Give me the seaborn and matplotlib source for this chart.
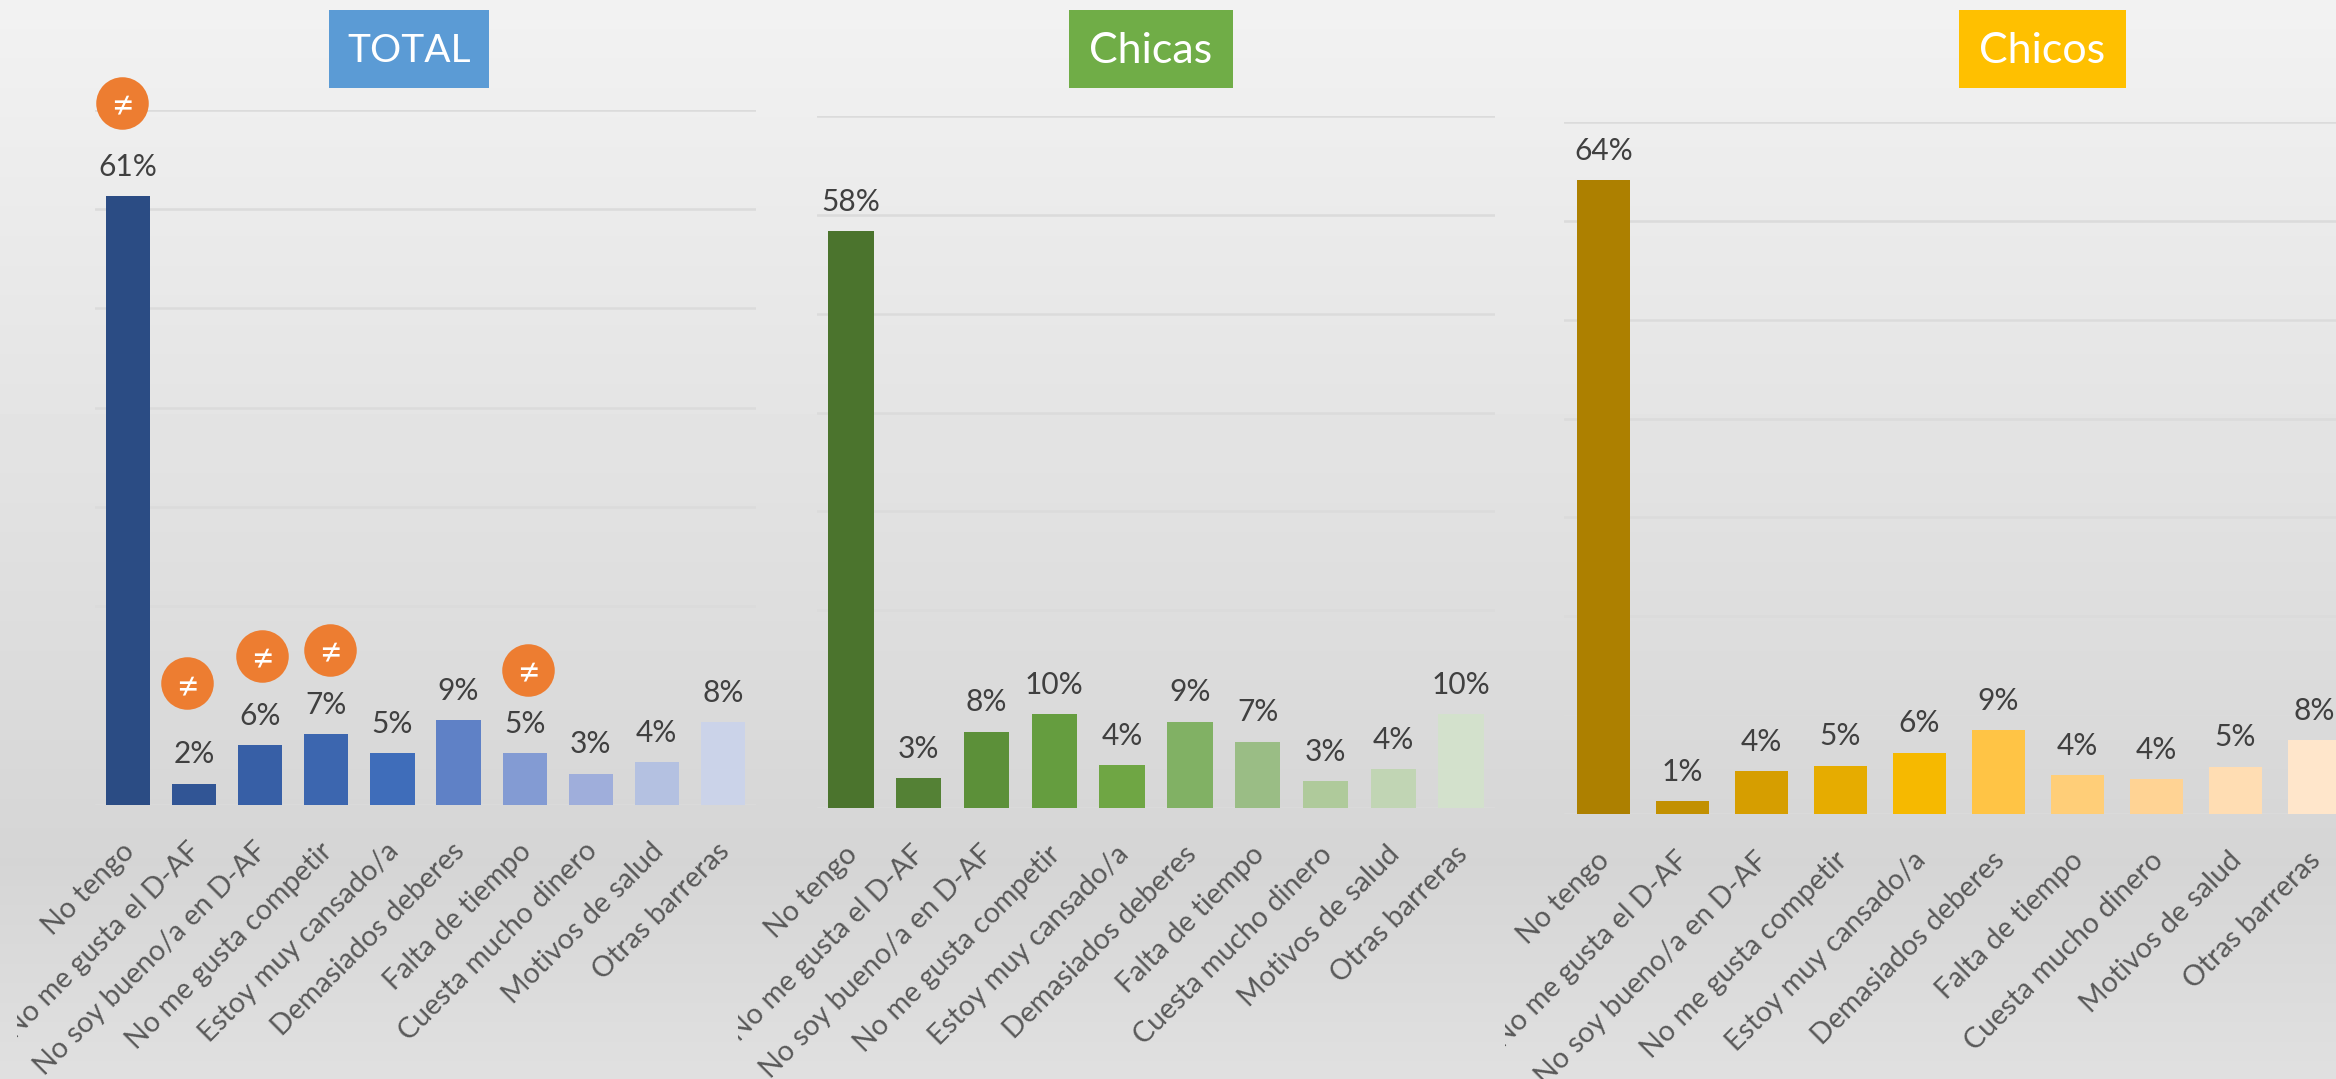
import numpy as np
import pandas as pd
import matplotlib
matplotlib.use("Agg")
import matplotlib.pyplot as plt
from matplotlib.patches import Rectangle
from matplotlib.transforms import Bbox, Affine2D
import seaborn as sns

# Survey answers shared by the three panels
barriers = [
    "No tengo", "No me gusta el D-AF", "No soy bueno/a en D-AF",
    "No me gusta competir", "Estoy muy cansado/a", "Demasiados deberes",
    "Falta de tiempo", "Cuesta mucho dinero", "Motivos de salud", "Otras barreras",
]

# Percentages per group
total_values = [61.3, 2.1, 6.0, 7.1, 5.2, 8.5, 5.2, 3.1, 4.3, 8.3]
chicas_values = [58.4, 3.0, 7.7, 9.5, 4.3, 8.7, 6.7, 2.7, 3.9, 9.5]
chicos_values = [64.1, 1.3, 4.3, 4.9, 6.2, 8.5, 3.9, 3.5, 4.8, 7.5]

# Shades per group, dark to light
total_colors = ["#2B4C84", "#315595", "#375FA6", "#3C66AF", "#3F6DBA",
                "#5F81C6", "#839BD3", "#9FAEDB", "#B4C1E1", "#CBD3E9"]
chicas_colors = ["#4B742D", "#548135", "#5C9039", "#659D3F", "#6FA644",
                 "#81B164", "#9ABD85", "#AFCA9B", "#C1D5B4", "#D3E1CC"]
chicos_colors = ["#AD8000", "#C29000", "#D69E00", "#E6AC00", "#F6B900",
                 "#FFC445", "#FFCE78", "#FFD394", "#FFDDB3", "#FFE6CB"]

W, H = 2336, 1079
DPI = 100

sns.set_theme(style="white")
plt.rcParams["font.family"] = ["Lato", "DejaVu Sans"]

fig = plt.figure(figsize=(W / DPI, H / DPI), dpi=DPI)


def px_axes(left, right, top, bottom, **kw):
    """Axes placed by pixel edges, measured from the top-left corner."""
    return fig.add_axes([left / W, 1 - bottom / H, (right - left) / W, (bottom - top) / H], **kw)


# Backdrop: vertical grey gradient
bg = px_axes(0, W, 0, H, zorder=-5)
rows = np.linspace(0, 1, H)
shade = np.interp(rows, [0, 0.8, 1], [242, 213, 224]) / 255
bg.imshow(shade[:, None], cmap="gray", vmin=0, vmax=1, aspect="auto")
bg.axis("off")

# Pixel layout of each panel and its heading box
panels = [
    dict(title="TOTAL", title_size=28, values=total_values, colors=total_colors, box="#5B9BD5",
         left=95, right=756, top=110, bottom=804.5, box_x=(329, 489), clip_x=17,
         badges=[(0, -0.09, 70.7), (1, -0.11, 12.2), (2, 0.03, 15.0), (3, 0.06, 15.6), (6, 0.05, 13.6)]),
    dict(title="Chicas", title_size=31, values=chicas_values, colors=chicas_colors, box="#70AD47",
         left=817, right=1495, top=116.3, bottom=807.7, box_x=(1069, 1233), clip_x=738,
         badges=[]),
    dict(title="Chicos", title_size=31, values=chicos_values, colors=chicos_colors, box="#FFC000",
         left=1564, right=2354, top=122, bottom=814, box_x=(1959, 2126), clip_x=1505,
         badges=[]),
]

for p in panels:
    ax = px_axes(p["left"], p["right"], p["top"], p["bottom"])
    ax.patch.set_alpha(0)
    df = pd.DataFrame({"barrera": barriers, "pct": p["values"]})
    sns.barplot(data=df, x="barrera", y="pct", hue="barrera", order=barriers,
                hue_order=barriers, palette=p["colors"], dodge=False, width=0.67,
                saturation=1, legend=False, linewidth=0, ax=ax, zorder=3)
    ax.set_xlim(-0.5, 9.5)
    ax.set_ylim(0, 70)
    ax.set_yticks(np.arange(0, 71, 10))
    ax.yaxis.grid(True, color="#DBDBDB", lw=1.8)
    ax.set_axisbelow(True)
    ax.set_xlabel("")
    ax.set_ylabel("")
    ax.tick_params(axis="y", left=False, labelleft=False)
    ax.tick_params(axis="x", bottom=False, pad=18)
    sns.despine(ax=ax, left=True, bottom=True)

    # Value labels follow the bars, rounded to whole percentages
    for container, v in zip(ax.containers, p["values"]):
        ax.bar_label(container, labels=[f"{int(v + 0.5)}%"], padding=11,
                     fontsize=21.5, color="#404040", zorder=5)

    # Slanted answers, cut at the panel's left edge
    clip = Bbox([[p["clip_x"], 0], [W + 100, H]])
    for lab in ax.get_xticklabels():
        lab.set_rotation(45)
        lab.set_ha("right")
        lab.set_va("top")
        lab.set_rotation_mode("anchor")
        lab.set_fontsize(20.6)
        lab.set_color("#595959")
        lab.set_transform(lab.get_transform() + Affine2D().translate(-7, 0))
        lab.set_clip_on(True)
        lab.set_clip_box(clip)

    # Marks for significant differences
    for idx, dx, y in p["badges"]:
        ax.scatter([idx + dx], [y], s=1430, color="#ED7D31", linewidths=0,
                   clip_on=False, zorder=6)
        ax.text(idx + dx, y, "≠", color="white", fontsize=28, ha="center",
                va="center_baseline", zorder=7, clip_on=False)

    # Heading box with the group name
    x0, x1 = p["box_x"]
    fig.add_artist(Rectangle((x0 / W, 1 - 88 / H), (x1 - x0) / W, 78 / H,
                             transform=fig.transFigure, facecolor=p["box"], edgecolor="none"))
    fig.text((x0 + x1) / 2 / W, 1 - 51 / H, p["title"], color="white", fontsize=p["title_size"],
             ha="center", va="center")

fig.savefig("out.png", dpi=DPI)
